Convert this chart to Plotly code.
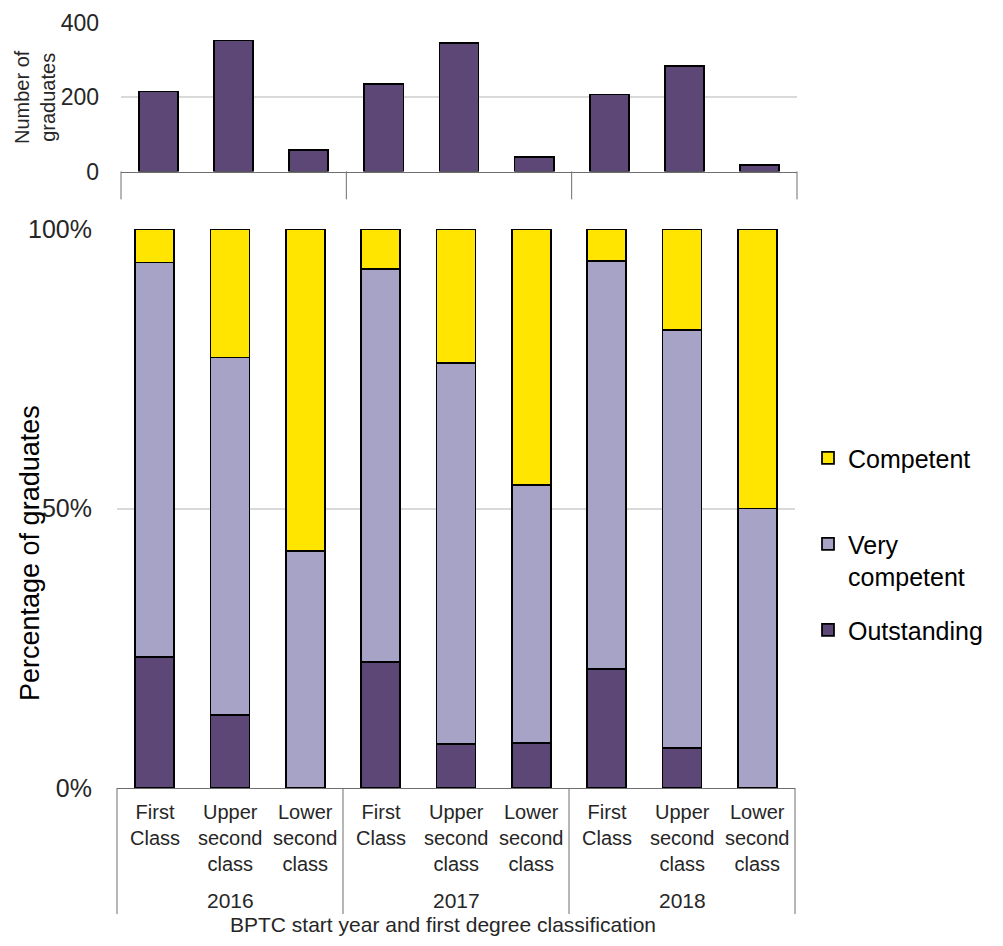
import plotly.graph_objects as go

years = ["2016"] * 3 + ["2017"] * 3 + ["2018"] * 3
classes = ["First<br>Class", "Upper<br>second<br>class", "Lower<br>second<br>class"] * 3

graduates = [215, 352, 58, 235, 345, 39, 207, 283, 18]

outstanding = [0.234, 0.131, 0.0, 0.225, 0.079, 0.081, 0.213, 0.072, 0.0]
very_competent = [0.706, 0.639, 0.424, 0.704, 0.681, 0.461, 0.730, 0.747, 0.500]
competent = [0.060, 0.230, 0.576, 0.071, 0.240, 0.458, 0.057, 0.181, 0.500]

y_ticks_pct = [0, 0.5, 1]
y_ticks_pct_text = ["0%", "50%", "100%"]
y_ticks_num = [0, 200, 400]

DARK = "#5C4777"
LAV = "#A6A3C6"
YEL = "#FFE500"
FONT = "Liberation Sans, Arial"
TXT = "#262626"
AXIS = "#6E6E6E"

# the page body adds an 8px margin around the figure
OFF = 8
W, H = 1003 - 2 * OFF, 946 - 2 * OFF


def px(xp):
    return (xp - OFF) / W


def py(yp):
    return (H - (yp - OFF)) / H


fig = go.Figure()
x = [years, classes]
series = [("Outstanding", outstanding, DARK, 3),
          ("Very<br>competent", very_competent, LAV, 2),
          ("Competent<br> ", competent, YEL, 1)]
for name, vals, col, rank in series:
    fig.add_trace(go.Bar(x=x, y=vals, name=name, legendgroup=name, legendrank=rank,
                         marker=dict(color=col, line=dict(color="black", width=1.75)),
                         xaxis="x", yaxis="y"))

fig.add_trace(go.Bar(x=x, y=graduates, showlegend=False,
                     marker=dict(color=DARK, line=dict(color="black", width=1.75)),
                     xaxis="x2", yaxis="y2"))

fig.update_layout(
    width=W, height=H,
    margin=dict(l=0, r=0, t=0, b=0),
    barmode="stack", bargap=0.48,
    plot_bgcolor="white", paper_bgcolor="white",
    font=dict(family=FONT, color=TXT),
    xaxis=dict(domain=[px(117), px(795)], anchor="y", type="multicategory",
               showticklabels=False, showline=True, linecolor=AXIS, linewidth=1,
               ticks="", showgrid=False, showdividers=False, automargin=False),
    yaxis=dict(domain=[py(788), py(229)], anchor="x", range=[0, 1],
               tickvals=y_ticks_pct, ticktext=y_ticks_pct_text,
               tickfont=dict(family=FONT, size=25, color=TXT),
               showgrid=True, gridcolor="#D9D9D9", gridwidth=2, zeroline=False,
               showline=False, ticks="", ticklabelstandoff=24, automargin=False),
    xaxis2=dict(domain=[px(121), px(797)], anchor="y2", type="multicategory",
                showticklabels=False, showline=True, linecolor=AXIS, linewidth=1,
                ticks="", showgrid=False, showdividers=False, automargin=False),
    yaxis2=dict(domain=[py(171.5), py(22.5)], anchor="x2", range=[0, 400],
                tickvals=y_ticks_num,
                tickfont=dict(family=FONT, size=23, color=TXT),
                showgrid=True, gridcolor="#D9D9D9", gridwidth=2, zeroline=False,
                showline=False, ticks="", ticklabelstandoff=21, automargin=False),
    legend=dict(x=px(808), y=py(435), xanchor="left", yanchor="top",
                traceorder="grouped", tracegroupgap=18, valign="top",
                font=dict(family=FONT, size=25, color="black"), itemwidth=30),
)

# category labels, year labels and group dividers under the bottom chart
n = len(classes)
for i, lab in enumerate(classes):
    fig.add_annotation(text=lab, xref="x domain", yref="y domain",
                       x=(i + 0.5) / n, y=-0.0197, xanchor="center", yanchor="top",
                       showarrow=False, font=dict(family=FONT, size=20, color=TXT))

groups = list(dict.fromkeys(years))
ng = len(groups)
for k, g in enumerate(groups):
    fig.add_annotation(text=g, xref="x domain", yref="y domain",
                       x=(k + 0.5) / ng, y=-0.2004, xanchor="center", yanchor="middle",
                       showarrow=False, font=dict(family=FONT, size=21, color=TXT))
for k in range(ng + 1):
    fig.add_shape(type="line", xref="x domain", yref="y domain",
                  x0=k / ng, x1=k / ng, y0=0, y1=-0.2254,
                  line=dict(color=AXIS, width=1))
    fig.add_shape(type="line", xref="x2 domain", yref="y2 domain",
                  x0=k / ng, x1=k / ng, y0=0, y1=-0.187,
                  line=dict(color=AXIS, width=1))

# axis titles
fig.add_annotation(text="BPTC start year and first degree classification",
                   xref="paper", yref="paper", x=px(443), y=0,
                   xanchor="center", yanchor="bottom", showarrow=False,
                   font=dict(family=FONT, size=21, color=TXT))
fig.add_annotation(text="Percentage of graduates", textangle=-90,
                   xref="paper", yref="paper", x=px(30), y=py(553),
                   xanchor="center", yanchor="middle", showarrow=False,
                   font=dict(family=FONT, size=27, color="black"))
fig.add_annotation(text="Number of<br>graduates", textangle=-90,
                   xref="paper", yref="paper", x=px(35), y=py(97),
                   xanchor="center", yanchor="middle", showarrow=False,
                   font=dict(family=FONT, size=20, color=TXT))

fig.write_html("out.html")
